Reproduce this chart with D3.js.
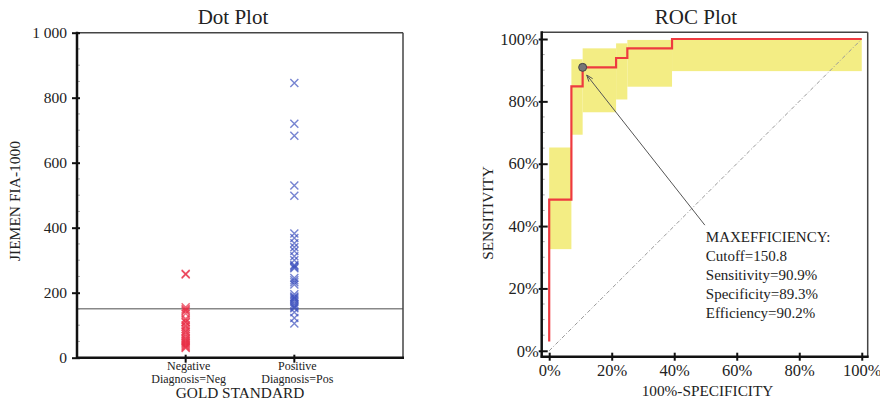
<!DOCTYPE html>
<html>
<head>
<meta charset="utf-8">
<script src="https://cdn.jsdelivr.net/npm/d3@7"></script>
<style>
body { margin: 0; background: #fff; }
svg { font-family: "Liberation Serif", "Times New Roman", serif; }
text { fill: #222; }
</style>
</head>
<body>
<div id="chart"></div>
<script>
// dot plot data
const groups = ["Neg", "Pos"];
const groupLines = [["Negative", "Diagnosis=Neg"], ["Positive", "Diagnosis=Pos"]];
const negValues = [258, 256, 155, 150, 146, 143, 136, 120, 115, 110, 108,
	100, 95, 88, 82, 78, 72, 66, 60, 56, 52, 48, 45, 42, 38, 35, 32, 30];
const posValues = [845, 720, 683, 530, 498, 382, 368, 352, 340, 328, 312, 300, 285, 282, 278, 275,
	245, 238, 232, 225, 195, 188, 185, 182, 178, 172, 165, 160, 155, 152, 140, 122, 105];
const cutoff = 150.8;
const dotTicks = [0, 200, 400, 600, 800, 1000];
const dotTickLabels = ["0", "200", "400", "600", "800", "1 000"];

// roc plot data
const rocFpr  = [0, 0, 0.071, 0.071, 0.107, 0.107, 0.214, 0.214, 0.25, 0.25, 0.393, 0.393, 1];
const rocSens = [0.03, 0.485, 0.485, 0.848, 0.848, 0.909, 0.909, 0.939, 0.939, 0.97, 0.97, 1, 1];
const bandX0 = [0, 0.071, 0.107, 0.214, 0.25, 0.393];
const bandX1 = [0.071, 0.107, 0.214, 0.25, 0.393, 1];
const bandLow = [0.326, 0.693, 0.765, 0.806, 0.847, 0.897];
const bandHigh = [0.652, 0.935, 0.970, 0.986, 0.997, 1.0];
const rocTicks = [0, 0.2, 0.4, 0.6, 0.8, 1];
const maxEffPoint = [0.107, 0.909];
const arrowFrom = [0.498, 0.403];
const arrowTo = [0.12, 0.8845];
const infoLines = ["MAXEFFICIENCY:", "Cutoff=150.8", "Sensitivity=90.9%", "Specificity=89.3%", "Efficiency=90.2%"];

const W = 880, H = 401;
const svg = d3.select("#chart").append("svg").attr("width", W).attr("height", H);

function drawBox(g, x0, x1, y0, y1) {
	g.append("line").attr("x1", x0).attr("x2", x1).attr("y1", y0).attr("y2", y0)
		.attr("stroke", "#444").attr("stroke-width", 1.5);
	g.append("line").attr("x1", x1).attr("x2", x1).attr("y1", y0).attr("y2", y1)
		.attr("stroke", "#444").attr("stroke-width", 1.5);
	g.append("line").attr("x1", x0).attr("x2", x0).attr("y1", y0 - 1).attr("y2", y1 + 1)
		.attr("stroke", "#111").attr("stroke-width", 2.5);
	g.append("line").attr("x1", x0 - 1).attr("x2", x1 + 1).attr("y1", y1).attr("y2", y1)
		.attr("stroke", "#111").attr("stroke-width", 2.5);
}

// ---------- Dot Plot ----------
(function dotPlot() {
	const left = 77, right = 403, top = 32.7, bottom = 357.7;
	const y = d3.scaleLinear().domain([0, 1000]).range([bottom, top]);
	const x = d3.scalePoint().domain(groups).range([left, right]).padding(1);
	const g = svg.append("g").attr("class", "dot");

	// minor ticks
	g.selectAll(".minor").data(d3.range(50, 1000, 50).filter(v => v % 200 !== 0)).enter()
		.append("line")
		.attr("x1", left).attr("x2", left + 3)
		.attr("y1", d => y(d)).attr("y2", d => y(d))
		.attr("stroke", "#aaa").attr("stroke-width", 1);

	// cutoff line
	g.append("line").attr("x1", left).attr("x2", right)
		.attr("y1", y(cutoff)).attr("y2", y(cutoff))
		.attr("stroke", "#888").attr("stroke-width", 1.5);

	const xMark = "M-4,-4L4,4M-4,4L4,-4";
	g.selectAll(".neg").data(negValues).enter().append("path")
		.attr("d", xMark)
		.attr("transform", d => "translate(" + x("Neg") + "," + y(d) + ")")
		.attr("fill", "none").attr("stroke", "rgba(232,45,70,0.7)").attr("stroke-width", 1.4);
	g.selectAll(".pos").data(posValues).enter().append("path")
		.attr("d", xMark)
		.attr("transform", d => "translate(" + x("Pos") + "," + y(d) + ")")
		.attr("fill", "none").attr("stroke", "rgba(60,80,190,0.7)").attr("stroke-width", 1.4);

	drawBox(g, left, right, top, bottom);

	// y axis
	const ya = g.append("g").attr("transform", "translate(" + left + ",0)")
		.call(d3.axisLeft(y).tickValues(dotTicks).tickFormat((d, i) => dotTickLabels[i]).tickSize(5).tickPadding(5));
	ya.select(".domain").remove();
	ya.selectAll(".tick line").attr("x1", 3).attr("stroke", "#111").attr("stroke-width", 2);
	ya.selectAll(".tick text").attr("font-size", "15.5px").attr("font-family", "Liberation Serif").attr("fill", "#222");

	// x axis ticks
	g.selectAll(".xt").data(groups).enter().append("line")
		.attr("x1", d => x(d)).attr("x2", d => x(d))
		.attr("y1", bottom - 3).attr("y2", bottom + 5)
		.attr("stroke", "#111").attr("stroke-width", 2);
	groups.forEach((d, i) => {
		g.append("text").attr("x", x(d) + 3).attr("y", 370)
			.attr("text-anchor", "middle").attr("font-size", "12px")
			.text(groupLines[i][0]);
		g.append("text").attr("x", x(d) + 3).attr("y", 382.7)
			.attr("text-anchor", "middle").attr("font-size", "12px")
			.text(groupLines[i][1]);
	});

	g.append("text").attr("x", 240).attr("y", 398).attr("text-anchor", "middle")
		.attr("font-size", "15.3px").text("GOLD STANDARD");
	g.append("text").attr("transform", "translate(20,201) rotate(-90)")
		.attr("text-anchor", "middle").attr("font-size", "15.5px").text("JIEMEN FIA-1000");
	g.append("text").attr("x", 233).attr("y", 24).attr("text-anchor", "middle")
		.attr("font-size", "21px").text("Dot Plot");
})();

// ---------- ROC Plot ----------
(function rocPlot() {
	const left = 541.7, right = 867.7, top = 32.3, bottom = 356.7;
	const x = d3.scaleLinear().domain([-0.024, 1.019]).range([left, right]);
	const y = d3.scaleLinear().domain([-0.019, 1.0215]).range([bottom, top]);
	const g = svg.append("g").attr("class", "roc");

	// confidence band
	g.selectAll(".band").data(bandX0).enter().append("rect")
		.attr("x", (d, i) => x(d))
		.attr("width", (d, i) => x(bandX1[i]) - x(d))
		.attr("y", (d, i) => y(bandHigh[i]))
		.attr("height", (d, i) => y(bandLow[i]) - y(bandHigh[i]))
		.attr("fill", "#f3ed84");

	// diagonal
	g.append("line").attr("x1", x(0)).attr("y1", y(0)).attr("x2", x(1)).attr("y2", y(1))
		.attr("stroke", "#999").attr("stroke-width", 1).attr("stroke-dasharray", "4,2,1,2");

	// roc curve
	const line = d3.line().x(d => x(d[0])).y(d => y(d[1]));
	g.append("path").datum(rocFpr.map((f, i) => [f, rocSens[i]]))
		.attr("d", line).attr("fill", "none")
		.attr("stroke", "#ee3a3f").attr("stroke-width", 2.2);

	// arrow
	const ax1 = x(arrowFrom[0]), ay1 = y(arrowFrom[1]);
	const ax2 = x(arrowTo[0]), ay2 = y(arrowTo[1]);
	g.append("line").attr("x1", ax1).attr("y1", ay1).attr("x2", ax2).attr("y2", ay2)
		.attr("stroke", "#555").attr("stroke-width", 1);
	const ang = Math.atan2(ay1 - ay2, ax1 - ax2);
	const ah = 7, aw = 0.35;
	g.append("path")
		.attr("d", "M" + ax2 + "," + ay2 +
			"L" + (ax2 + ah * Math.cos(ang - aw)) + "," + (ay2 + ah * Math.sin(ang - aw)) +
			"M" + ax2 + "," + ay2 +
			"L" + (ax2 + ah * Math.cos(ang + aw)) + "," + (ay2 + ah * Math.sin(ang + aw)))
		.attr("stroke", "#555").attr("stroke-width", 1).attr("fill", "none");

	// max efficiency point
	g.append("circle").attr("cx", x(maxEffPoint[0])).attr("cy", y(maxEffPoint[1])).attr("r", 4)
		.attr("fill", "#777").attr("stroke", "#444").attr("stroke-width", 1);

	// info text
	infoLines.forEach((t, i) => {
		g.append("text").attr("x", x(arrowFrom[0]) + 1).attr("y", 241.7 + i * 19.1)
			.attr("font-size", "15px").text(t);
	});

	// minor ticks
	g.selectAll(".minor").data(d3.range(0.05, 1, 0.05).filter(v => Math.round(v * 100) % 20 !== 0)).enter()
		.append("line")
		.attr("x1", left).attr("x2", left + 3)
		.attr("y1", d => y(d)).attr("y2", d => y(d))
		.attr("stroke", "#aaa").attr("stroke-width", 1);

	drawBox(g, left, right, top, bottom);

	const pct = d3.format(".0%");
	const ya = g.append("g").attr("transform", "translate(" + left + ",0)")
		.call(d3.axisLeft(y).tickValues(rocTicks).tickFormat(pct).tickSize(3).tickPadding(0));
	ya.select(".domain").remove();
	ya.selectAll(".tick line").attr("x1", 6).attr("stroke", "#111").attr("stroke-width", 2);
	ya.selectAll(".tick text").attr("font-size", "16.5px").attr("font-family", "Liberation Serif").attr("fill", "#222");

	const xa = g.append("g").attr("transform", "translate(0," + bottom + ")")
		.call(d3.axisBottom(x).tickValues(rocTicks).tickFormat(pct).tickSize(4).tickPadding(4));
	xa.select(".domain").remove();
	xa.selectAll(".tick line").attr("y1", -4).attr("stroke", "#111").attr("stroke-width", 2);
	xa.selectAll(".tick text").attr("font-size", "16.5px").attr("font-family", "Liberation Serif").attr("fill", "#222");

	g.append("text").attr("x", 707.5).attr("y", 396).attr("text-anchor", "middle")
		.attr("font-size", "15.3px").text("100%-SPECIFICITY");
	g.append("text").attr("transform", "translate(493,213) rotate(-90)")
		.attr("text-anchor", "middle").attr("font-size", "15.3px").text("SENSITIVITY");
	g.append("text").attr("x", 696).attr("y", 24).attr("text-anchor", "middle")
		.attr("font-size", "21px").text("ROC Plot");
})();
</script>
</body>
</html>
